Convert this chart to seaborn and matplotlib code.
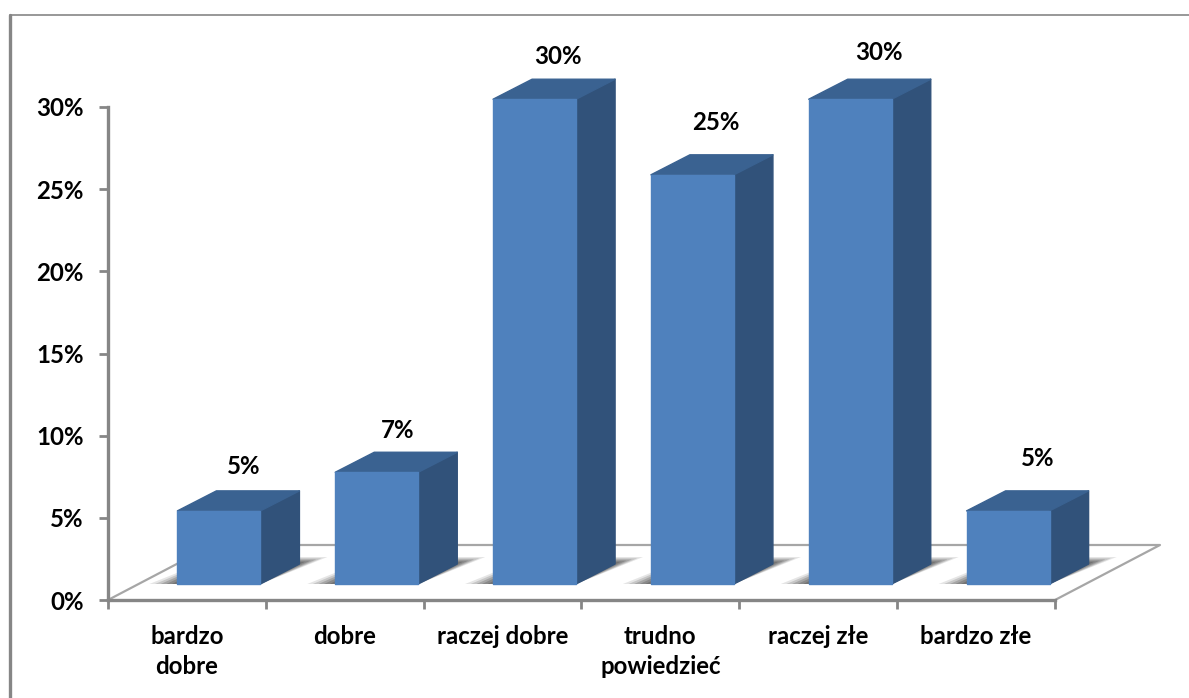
import numpy as np
import pandas as pd
import seaborn as sns
import matplotlib
matplotlib.use("Agg")
import matplotlib.pyplot as plt
from matplotlib.lines import Line2D
from matplotlib.patches import Polygon
from matplotlib.transforms import Affine2D

categories = ["bardzo\ndobre", "dobre", "raczej dobre", "trudno\npowiedzieć", "raczej złe", "bardzo złe"]
heights = [4.45, 6.8, 29.5, 24.9, 29.5, 4.45]
value_labels = ["5%", "7%", "30%", "25%", "30%", "5%"]
y_ticks = [0, 5, 10, 15, 20, 25, 30]

GREY = "#868686"
FRONT = "#4f81bd"
SIDE = "#31527a"
TOP = "#3a6291"
FONT_SIZE = 17.3

sns.set_style("white")
plt.rcParams["font.family"] = ["Lato", "DejaVu Sans"]

W, H = 1189, 698
fig = plt.figure(figsize=(W / 100, H / 100), dpi=100)
ax = fig.add_axes([108 / W, 1 - 600 / H, 947 / W, 493 / H])

df = pd.DataFrame({"category": categories, "value": heights})
sns.barplot(data=df, x="category", y="value", color=FRONT, saturation=1, width=0.526, ax=ax)
ax.set_xlim(-0.5, 5.5)
ax.set_ylim(0, 30)
ax.set_xlabel("")
ax.set_ylabel("")

# pixels per data unit, the fake 3d depth is given in pixels
px_x = 947 / 6
px_y = 493 / 30
shift = ax.transData + Affine2D().translate(32, 16)
dx, dy = 39 / px_x, 20 / px_y

for bar, label, (off_x, off_y) in zip(
    ax.patches, value_labels,
    [(25, 44), (21, 42), (23, 43), (23, 52), (29, 47), (30, 52)],
):
    x0, x1 = bar.get_x(), bar.get_x() + bar.get_width()
    h = bar.get_height()

    # soft shadow on the floor, a few stacked layers
    for k, a in zip([1.0, 0.8, 0.6, 0.4, 0.2], [0.14, 0.2, 0.26, 0.3, 0.34]):
        sp = 28 * k / px_x
        shadow = [
            (x0 - sp, 0), (x1, 0),
            (x1 + dx + sp, dy * (1.05 + 0.3 * k)),
            (x0 + dx, dy * (1.05 + 0.3 * k)),
        ]
        ax.add_patch(Polygon(shadow, closed=True, transform=shift, fc="#4a4a4a", ec="none",
                             alpha=a, zorder=2, clip_on=False))

    bar.set_transform(shift)
    bar.set_clip_on(False)
    bar.set_zorder(5)
    bar.set_edgecolor(FRONT)
    bar.set_linewidth(1.0)
    bar.set_joinstyle("round")

    side = [(x1, 0), (x1 + dx, dy), (x1 + dx, h + dy), (x1, h)]
    ax.add_patch(Polygon(side, closed=True, transform=shift, fc=SIDE, ec=SIDE, lw=1.0,
                         joinstyle="round", zorder=4, clip_on=False))
    top = [(x0, h), (x1, h), (x1 + dx, h + dy), (x0 + dx, h + dy)]
    ax.add_patch(Polygon(top, closed=True, transform=shift, fc=TOP, ec=TOP, lw=1.0,
                         joinstyle="round", zorder=4, clip_on=False))

    ax.annotate(label, xy=(bar.get_x() + bar.get_width() / 2, h), xycoords=shift,
                xytext=(off_x, off_y), textcoords="offset pixels",
                ha="center", va="center", fontsize=FONT_SIZE, fontweight="bold", color="black",
                annotation_clip=False)

# floor outline
fl_x, fl_y = 105 / px_x, 55 / px_y
floor = [(-0.5, 0), (-0.5 + fl_x, fl_y), (5.5 + fl_x, fl_y), (5.5, 0)]
ax.plot(*zip(*floor), color="#a6a6a6", lw=1.6, zorder=1, clip_on=False)

sns.despine(ax=ax, top=True, right=True)
for name in ["left", "bottom"]:
    ax.spines[name].set_color(GREY)
    ax.spines[name].set_linewidth(2.4)

ax.set_yticks(y_ticks)
ax.set_yticklabels([f"{v}%" for v in y_ticks], fontsize=FONT_SIZE, fontweight="bold", color="black")
ax.tick_params(axis="y", left=True, length=6.5, width=2, color=GREY, pad=11)

# labels sit at the centres, the tick marks at the category borders
ax.set_xticks(range(len(categories)))
ax.set_xticklabels(categories, fontsize=FONT_SIZE, fontweight="bold", color="black", linespacing=1.37)
ax.set_xticks(np.arange(-0.5, 6, 1), minor=True)
ax.tick_params(axis="x", which="major", bottom=False, length=0, pad=18)
ax.tick_params(axis="x", which="minor", bottom=True, length=6.5, width=2, color=GREY)

# picture frame
fig.add_artist(Line2D([10 / W, 10 / W], [0, 1 - 15 / H], color=GREY, lw=2.4))
fig.add_artist(Line2D([10 / W, 1], [1 - 15 / H, 1 - 15 / H], color=GREY, lw=1.2))

fig.savefig("out.png", dpi=100)
